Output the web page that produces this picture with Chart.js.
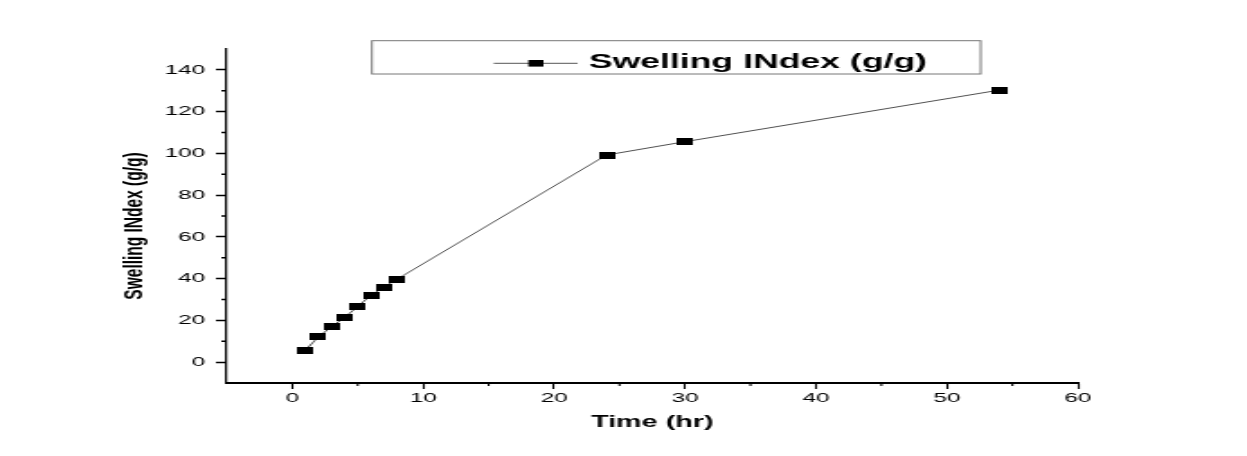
<!DOCTYPE html>
<html>
<head>
<meta charset="utf-8">
<script src="https://cdn.jsdelivr.net/npm/chart.js@4/dist/chart.umd.min.js"></script>
<style>
  html, body { margin: 0; padding: 0; background: #fff; overflow: hidden; }
  /* plot is drawn narrow and stretched sideways, like the exported figure */
  #wrap { width: 693px; height: 456px; transform: scaleX(1.7994); transform-origin: 0 0; }
</style>
</head>
<body>
<div id="wrap"><canvas id="grafik" width="693" height="456"></canvas></div>
<script>
const ctx = document.getElementById('grafik').getContext('2d');

// waktu (jam) dan swelling index
const timeHr = [1, 2, 3, 4, 5, 6, 7, 8, 24, 30, 54];
const swellingIndex = [5.7, 12.1, 16.9, 21.4, 26.6, 32, 35.9, 39.7, 99.2, 105.6, 130.3];
const seriesLabel = 'Swelling INdex (g/g)';
const yTitle = 'Swelling INdex (g/g)';
const xTicks = [0, 10, 20, 30, 40, 50, 60];
const yTicks = [0, 20, 40, 60, 80, 100, 120, 140];
const xMinor = [5, 15, 25, 35, 45, 55];
const yMinor = [10, 30, 50, 70, 90, 110, 130];

const FONT = "'Liberation Sans', Arial, sans-serif";

// marker kotak hitam
function makeMarker(w, h) {
    const c = document.createElement('canvas');
    c.width = w; c.height = h;
    const g = c.getContext('2d');
    g.fillStyle = '#000';
    g.fillRect(0, 0, w, h);
    return c;
}
const marker = makeMarker(9, 7);

// tick kecil, judul sumbu Y dan kotak legenda
const extras = {
    id: 'extras',
    afterDraw(chart) {
        const c = chart.ctx;
        const xs = chart.scales.x, ys = chart.scales.y;
        const area = chart.chartArea;
        c.save();
        c.strokeStyle = '#000';
        c.lineWidth = 1.1;
        xMinor.forEach(v => {
            const px = xs.getPixelForValue(v);
            c.beginPath(); c.moveTo(px, area.bottom); c.lineTo(px, area.bottom + 3); c.stroke();
        });
        c.lineWidth = 1.5;
        yMinor.forEach(v => {
            const py = ys.getPixelForValue(v);
            c.beginPath(); c.moveTo(area.left - 3, py); c.lineTo(area.left, py); c.stroke();
        });

        // judul sumbu Y
        c.save();
        c.translate(75, 226);
        c.rotate(-Math.PI / 2);
        c.fillStyle = '#000';
        c.font = 'bold 15.5px ' + FONT;
        c.textAlign = 'center';
        c.textBaseline = 'middle';
        c.fillText(yTitle, 0, 0);
        c.restore();

        // legenda
        c.strokeStyle = '#777';
        c.lineWidth = 1;
        c.strokeRect(206.7, 40.7, 338.3, 33.3);
        c.strokeStyle = '#555';
        c.beginPath(); c.moveTo(274.4, 63.3); c.lineTo(321, 63.3); c.stroke();
        c.fillStyle = '#000';
        c.fillRect(297.8 - 4.2, 63.3 - 3.3, 8.4, 6.6);
        c.font = 'bold 19.8px ' + FONT;
        c.textBaseline = 'middle';
        c.textAlign = 'left';
        c.fillText(chart.data.datasets[0].label, 327.2, 63);
        c.restore();
    }
};

new Chart(ctx, {
    type: 'line',
    data: {
        datasets: [{
            label: seriesLabel,
            data: timeHr.map((t, i) => ({ x: t, y: swellingIndex[i] })),
            borderColor: '#505050',
            borderWidth: 1,
            pointStyle: marker,
            pointRadius: 5,
            tension: 0,
            fill: false
        }]
    },
    options: {
        responsive: false,
        animation: false,
        layout: { padding: { top: 49, right: 94, left: 0, bottom: 0 } },
        plugins: {
            legend: { display: false },
            tooltip: { enabled: false }
        },
        scales: {
            x: {
                type: 'linear',
                min: -5,
                max: 60,
                afterFit(s) { s.height = 73; },
                afterBuildTicks(s) { s.ticks = xTicks.map(v => ({ value: v })); },
                grid: { drawOnChartArea: false, drawTicks: true, tickLength: 6, tickColor: '#000', tickWidth: 1.1 },
                border: { color: '#000', width: 2 },
                ticks: { color: '#000', padding: 1, font: { family: FONT, size: 13.5 } },
                title: {
                    display: true,
                    text: 'Time (hr)',
                    color: '#000',
                    font: { family: FONT, size: 16, weight: 'bold' },
                    padding: { top: 0, bottom: 24 }
                }
            },
            y: {
                type: 'linear',
                min: -10,
                max: 150,
                afterFit(s) { s.width = 126; },
                afterBuildTicks(s) { s.ticks = yTicks.map(v => ({ value: v })); },
                grid: { drawOnChartArea: false, drawTicks: true, tickLength: 6, tickColor: '#000', tickWidth: 1.5 },
                border: { color: '#000', width: 1.2 },
                ticks: { color: '#000', padding: 6, font: { family: FONT, size: 13.5 } },
                title: { display: false }
            }
        }
    },
    plugins: [extras]
});
</script>
</body>
</html>
